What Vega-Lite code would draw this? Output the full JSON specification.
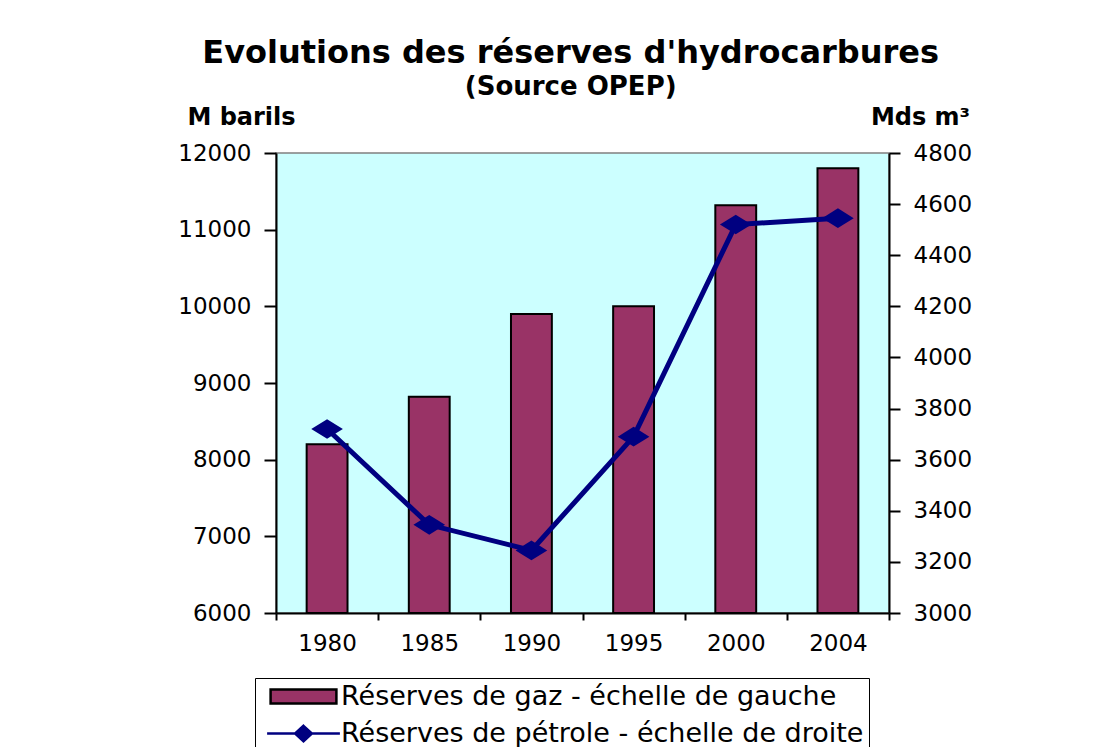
{
  "$schema": "https://vega.github.io/schema/vega-lite/v6.json",
  "autosize": {"type": "none"},
  "width": 613,
  "height": 460,
  "padding": {"left": 276, "top": 153, "right": 226, "bottom": 134},
  "background": "white",
  "title": {
    "text": "Evolutions des réserves d'hydrocarbures",
    "subtitle": "(Source OPEP)",
    "font": "DejaVu Sans",
    "fontSize": 32,
    "fontWeight": "bold",
    "color": "black",
    "subtitleFont": "DejaVu Sans",
    "subtitleFontSize": 26,
    "subtitleFontWeight": "bold",
    "subtitleColor": "black",
    "subtitlePadding": 4,
    "anchor": "middle",
    "frame": "bounds",
    "dx": -4,
    "offset": 4
  },
  "data": {
    "values": [
      {"annee": "1980", "serie": "Réserves de gaz - échelle de gauche", "valeur": 8200},
      {"annee": "1985", "serie": "Réserves de gaz - échelle de gauche", "valeur": 8820},
      {"annee": "1990", "serie": "Réserves de gaz - échelle de gauche", "valeur": 9900},
      {"annee": "1995", "serie": "Réserves de gaz - échelle de gauche", "valeur": 10000},
      {"annee": "2000", "serie": "Réserves de gaz - échelle de gauche", "valeur": 11320},
      {"annee": "2004", "serie": "Réserves de gaz - échelle de gauche", "valeur": 11800},
      {"annee": "1980", "serie": "Réserves de pétrole - échelle de droite", "valeur": 3720},
      {"annee": "1985", "serie": "Réserves de pétrole - échelle de droite", "valeur": 3345},
      {"annee": "1990", "serie": "Réserves de pétrole - échelle de droite", "valeur": 3245},
      {"annee": "1995", "serie": "Réserves de pétrole - échelle de droite", "valeur": 3690},
      {"annee": "2000", "serie": "Réserves de pétrole - échelle de droite", "valeur": 4520},
      {"annee": "2004", "serie": "Réserves de pétrole - échelle de droite", "valeur": 4545}
    ]
  },
  "encoding": {
    "x": {
      "field": "annee",
      "type": "ordinal",
      "scale": {"paddingInner": 0, "paddingOuter": 0},
      "axis": {
        "title": null,
        "labelAngle": 0,
        "tickBand": "extent",
        "tickSize": 7,
        "labelPadding": 12,
        "labelFont": "DejaVu Sans",
        "labelFontSize": 23,
        "labelColor": "black",
        "domainColor": "black",
        "domainWidth": 2,
        "tickColor": "black",
        "tickWidth": 2
      }
    }
  },
  "layer": [
    {
      "transform": [{"filter": "datum.serie === 'Réserves de gaz - échelle de gauche'"}],
      "mark": {"type": "bar", "width": {"band": 0.4}, "fill": "#993366", "stroke": "black", "strokeWidth": 2},
      "encoding": {
        "y": {
          "field": "valeur",
          "type": "quantitative",
          "scale": {"domain": [6000, 12000], "zero": false, "nice": false},
          "axis": {
            "orient": "left",
            "values": [6000, 7000, 8000, 9000, 10000, 11000, 12000],
            "format": "d",
            "grid": false,
            "title": "M barils",
            "titleAngle": 0,
            "titleX": -35,
            "titleY": -36,
            "titleAlign": "center",
            "titleBaseline": "middle",
            "titleFont": "DejaVu Sans",
            "titleFontSize": 24,
            "titleFontWeight": "bold",
            "titleColor": "black",
            "labelFont": "DejaVu Sans",
            "labelFontSize": 23,
            "labelColor": "black",
            "labelPadding": 13,
            "tickSize": 12,
            "tickColor": "black",
            "tickWidth": 2,
            "domainColor": "black",
            "domainWidth": 2
          }
        },
        "y2": {"datum": 6000}
      }
    },
    {
      "transform": [{"filter": "datum.serie === 'Réserves de pétrole - échelle de droite'"}],
      "mark": {
        "type": "line",
        "color": "#000080",
        "strokeWidth": 5,
        "point": {"filled": true, "color": "#000080", "shape": "M-1,0L0,-0.62L1,0L0,0.62Z", "size": 1000, "opacity": 1}
      },
      "encoding": {
        "y": {
          "field": "valeur",
          "type": "quantitative",
          "scale": {"domain": [3000, 4800], "zero": false, "nice": false},
          "axis": {
            "orient": "right",
            "values": [3000, 3200, 3400, 3600, 3800, 4000, 4200, 4400, 4600, 4800],
            "format": "d",
            "grid": false,
            "title": "Mds m³",
            "titleAngle": 0,
            "titleX": 31,
            "titleY": -36,
            "titleAlign": "center",
            "titleBaseline": "middle",
            "titleFont": "DejaVu Sans",
            "titleFontSize": 24,
            "titleFontWeight": "bold",
            "titleColor": "black",
            "labelFont": "DejaVu Sans",
            "labelFontSize": 23,
            "labelColor": "black",
            "labelPadding": 13,
            "tickSize": 11,
            "tickColor": "black",
            "tickWidth": 2,
            "domainColor": "black",
            "domainWidth": 2
          }
        }
      }
    },
    {
      "mark": {"type": "point", "filled": true, "opacity": 0},
      "encoding": {
        "fill": {
          "field": "serie",
          "type": "nominal",
          "scale": {
            "domain": ["Réserves de gaz - échelle de gauche", "Réserves de pétrole - échelle de droite"],
            "range": ["#993366", "#000080"]
          },
          "legend": {
            "title": null,
            "orient": "none",
            "legendX": -21,
            "legendY": 525,
            "direction": "vertical",
            "strokeColor": "black",
            "fillColor": "white",
            "padding": 5,
            "rowPadding": 9,
            "symbolSize": 196,
            "symbolOffset": 30,
            "symbolOpacity": 1,
            "symbolStrokeWidth": 2.5,
            "labelOffset": 24,
            "labelFont": "DejaVu Sans",
            "labelFontSize": 27,
            "labelColor": "black",
            "labelLimit": 0
          }
        },
        "stroke": {
          "field": "serie",
          "type": "nominal",
          "scale": {
            "domain": ["Réserves de gaz - échelle de gauche", "Réserves de pétrole - échelle de droite"],
            "range": ["black", "#000080"]
          },
          "legend": {
            "title": null,
            "orient": "none",
            "legendX": -21,
            "legendY": 525,
            "direction": "vertical",
            "strokeColor": "black",
            "fillColor": "white",
            "padding": 5,
            "rowPadding": 9,
            "symbolSize": 196,
            "symbolOffset": 30,
            "symbolOpacity": 1,
            "symbolStrokeWidth": 2.5,
            "labelOffset": 24,
            "labelFont": "DejaVu Sans",
            "labelFontSize": 27,
            "labelColor": "black",
            "labelLimit": 0
          }
        },
        "shape": {
          "field": "serie",
          "type": "nominal",
          "scale": {
            "domain": ["Réserves de gaz - échelle de gauche", "Réserves de pétrole - échelle de droite"],
            "range": ["M-4.7,-1H4.7V1H-4.7Z", "M-5.2,0H5.2M0,-1.1L1.2,0L0,1.1L-1.2,0Z"]
          },
          "legend": {
            "title": null,
            "orient": "none",
            "legendX": -21,
            "legendY": 525,
            "direction": "vertical",
            "strokeColor": "black",
            "fillColor": "white",
            "padding": 5,
            "rowPadding": 9,
            "symbolSize": 196,
            "symbolOffset": 30,
            "symbolOpacity": 1,
            "symbolStrokeWidth": 2.5,
            "labelOffset": 24,
            "labelFont": "DejaVu Sans",
            "labelFontSize": 27,
            "labelColor": "black",
            "labelLimit": 0
          }
        }
      }
    }
  ],
  "resolve": {"scale": {"y": "independent"}, "axis": {"y": "independent"}},
  "config": {
    "view": {"fill": "#CCFFFF", "stroke": "#808080", "strokeWidth": 1.5}
  }
}
